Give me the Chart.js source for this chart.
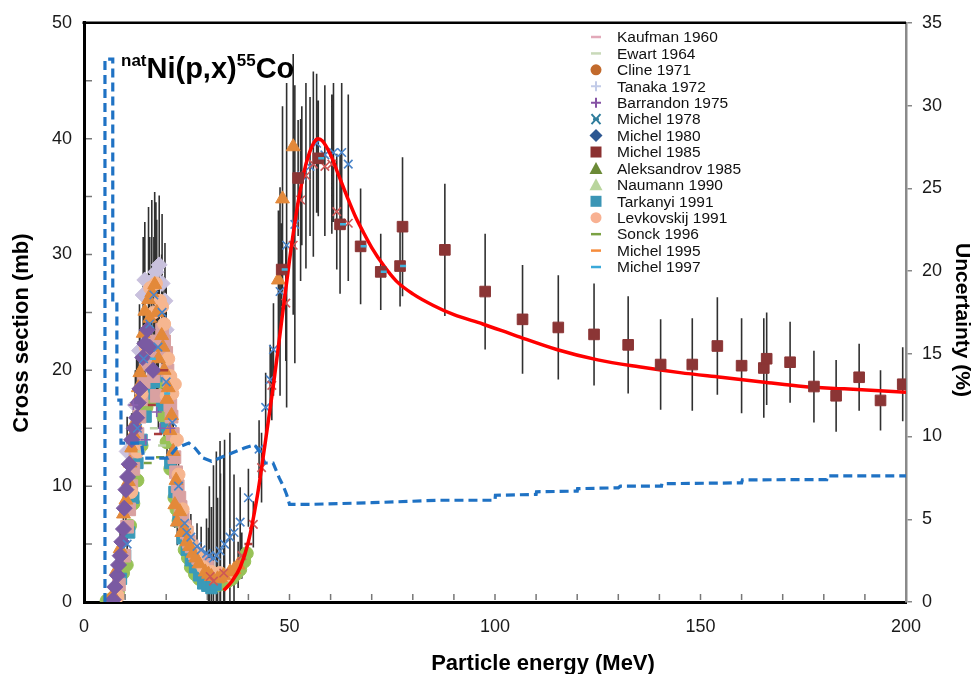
<!DOCTYPE html>
<html lang="en">
<head>
  <meta charset="UTF-8" />
  <title>natNi(p,x)55Co cross section</title>
  <script src="https://cdn.jsdelivr.net/npm/chart.js"></script>
  <style>
    body { margin: 0; background: #fff; }
    #wrap { position: relative; width: 974px; height: 674px; }
    #reaction {
      position: absolute; left: 121px; top: 52px;
      font-family: "Liberation Sans", Arial, sans-serif;
      font-weight: bold; font-size: 29px; line-height: 32px; color: #000; white-space: nowrap;
    }
    #reaction sup { font-size: 17px; line-height: 0; vertical-align: 12px; }
  </style>
</head>
<body>
<div id="wrap">
  <canvas id="xsChart" width="974" height="674"></canvas>
  <div id="reaction"><sup>nat</sup>Ni(p,x)<sup>55</sup>Co</div>
</div>

<script>
  // ---- data: [energy MeV, cross section mb, error mb] ----
  const kaufman1960 = [[16.5, 17.0], [18.0, 14.5], [19.5, 20.0], [40.0, 5.0]];
  const ewart1964 = [[14.0, 13.0], [17.0, 15.0], [19.0, 13.5]];
  const cline1971 = [[5.5, 0.1], [6.5, 0.2], [8.3, 0.8], [9.5, 2.5], [10.4, 3.2], [11.2, 6.6], [12.0, 8.5],
    [13.0, 10.5], [14.0, 13.5], [15.2, 16.8], [16.3, 17.8], [17.7, 17.5], [18.7, 19.0], [19.3, 16.0], [20.1, 13.8],
    [21.0, 11.5], [22.0, 9.0], [22.5, 8.0], [23.0, 7.0], [24.5, 4.5], [25.3, 3.8], [26.0, 3.0], [27.0, 2.4],
    [28.0, 2.0], [29.0, 1.7], [30.0, 1.5], [31.0, 1.4], [32.0, 1.4], [33.0, 1.5], [34.0, 1.6], [35.0, 1.8],
    [36.0, 2.0], [37.0, 2.4], [38.0, 2.8], [39.0, 3.5], [39.6, 4.2]];
  const tanaka1972 = [[10.5, 13.0, 3], [12.5, 17.0, 3], [13.5, 21.7, 4], [14.4, 26.5, 5], [14.8, 27.8, 5],
    [16.5, 27.7, 6], [17.5, 28.5, 6], [18.3, 29.1, 6], [19.0, 27.5, 6], [19.7, 26.0, 5], [20.0, 23.5, 4]];
  const barrandon1975 = [[12.0, 17.0], [15.0, 14.0], [17.7, 16.4], [18.5, 15.0], [21.0, 15.0]];
  const michel1978 = [[10.5, 5.0, 1], [13.0, 15.0, 3], [14.5, 21.0, 4], [16.0, 24.0, 5], [17.0, 26.5, 5],
    [18.0, 22.0, 5], [19.0, 25.0, 5], [20.0, 19.0, 4], [21.5, 15.5, 3], [23.0, 10.0, 2.5], [24.5, 6.8, 2],
    [25.0, 6.0, 2], [26.0, 5.6, 2], [27.5, 4.8, 2], [28.5, 4.5, 2], [29.8, 4.2, 3], [30.5, 4.0, 6],
    [31.5, 3.8, 8], [32.2, 4.0, 9], [33.1, 4.4, 9.5], [34.2, 5.0, 9], [35.5, 5.6, 9], [36.5, 6.0, 5],
    [38.0, 6.9, 3], [40.0, 9.0, 2.5], [42.6, 13.2, 2.5], [44.2, 16.8, 3], [45.3, 19.2, 3], [46.1, 21.8, 4],
    [47.7, 26.8, 9], [49.3, 30.8, 14], [51.3, 32.6, 12], [53.0, 36.8, 6], [55.0, 37.6, 6], [56.6, 39.6, 6],
    [58.6, 38.6, 6], [60.7, 38.8, 6], [62.7, 38.8, 6], [64.3, 37.8, 6]];
  const michel1980 = [[7.1, 0.2], [7.5, 1.3], [8.1, 2.3], [8.4, 3.2], [8.8, 4.0], [9.2, 5.2], [9.6, 6.3],
    [9.8, 8.1], [10.2, 9.7], [10.6, 10.8], [11.0, 11.9], [11.6, 14.0], [12.2, 15.0], [12.8, 15.9], [13.2, 17.2],
    [13.6, 18.4], [14.3, 21.1], [14.8, 22.3], [15.4, 23.5], [16.0, 22.0], [16.8, 20.0]];
  const michel1985 = [[48.1, 28.7, 4], [52.1, 36.6, 5], [57.0, 38.3, 5], [62.3, 32.6, 6], [67.3, 30.7, 5],
    [72.2, 28.5, 3.3], [76.9, 29.0, 3.5], [77.5, 32.4, 6], [87.8, 30.4, 5.7], [97.6, 26.8, 5], [106.7, 24.4, 4.7],
    [115.4, 23.7, 4.5], [124.1, 23.1, 4.4], [132.4, 22.2, 4.2], [140.3, 20.5, 3.9], [148.0, 20.5, 4],
    [154.1, 22.1, 4.2], [160.0, 20.4, 4.1], [165.4, 20.2, 4.3], [166.1, 21.0, 4], [171.8, 20.7, 3.5],
    [177.6, 18.6, 3.1], [183.0, 17.8, 3.1], [188.6, 19.4, 2.9], [193.8, 17.4, 2.6], [199.2, 18.8, 3.2]];
  const aleksandrov1985 = [[6.0, 0.1], [7.0, 0.6], [7.9, 2.7, 1], [8.8, 4.6, 1.5], [9.6, 7.6, 2], [10.2, 8.8, 2],
    [10.8, 10.4, 2.5], [11.2, 12.0, 2.5], [11.6, 13.3, 3], [12.0, 14.5, 3], [12.4, 15.5, 3], [12.8, 17.3, 4],
    [13.2, 18.5, 4], [13.6, 19.8, 5], [14.4, 23.2, 6], [14.8, 25.1, 7], [15.7, 26.1, 8], [16.0, 24.5, 7],
    [16.5, 26.7, 8], [17.2, 27.4, 8], [17.7, 25.0, 8], [18.1, 21.0, 6], [18.9, 23.0, 7], [19.2, 22.0, 6],
    [19.5, 20.0, 6], [20.2, 17.5, 5], [20.5, 18.5, 5], [20.9, 14.8, 4], [21.3, 16.1, 4], [21.7, 13.0, 3],
    [22.1, 8.4, 2], [22.4, 10.5, 2], [22.7, 6.9, 2], [23.3, 7.8, 2], [23.8, 6.0, 1.5], [24.3, 6.3, 1.5],
    [25.0, 5.2, 1.5], [25.7, 4.8, 1], [26.5, 4.2, 1], [27.2, 3.8, 1], [28.0, 3.3, 1], [29.5, 2.6, 1],
    [30.3, 2.4, 4], [31.0, 2.2, 6], [32.5, 2.0, 7], [33.2, 2.1, 9], [34.0, 2.3, 8], [35.5, 2.6, 6],
    [36.5, 2.8, 4], [37.5, 3.2, 2], [47.3, 27.8, 6], [48.3, 34.8, 8], [50.9, 39.3, 8]];
  const naumann1990 = [[8.5, 1.5], [9.8, 4.0], [10.5, 6.5], [11.0, 8.0], [11.5, 10.0], [12.0, 11.5], [12.5, 13.0],
    [13.0, 14.5], [13.5, 16.0], [14.0, 17.5], [14.5, 19.0], [15.0, 20.5], [15.5, 21.5], [16.0, 22.0],
    [16.9, 19.5], [17.3, 22.5], [17.7, 17.8], [18.5, 21.3], [19.0, 23.5], [19.5, 22.5], [20.0, 21.5],
    [20.3, 20.0], [20.8, 19.0], [21.0, 17.0], [21.3, 16.0], [21.6, 14.5], [22.0, 12.5], [22.4, 11.2],
    [22.8, 10.0], [23.2, 9.0], [23.5, 8.2], [24.0, 7.3], [24.5, 6.5], [25.0, 6.0], [25.5, 5.2], [26.2, 4.8],
    [27.0, 4.2], [27.8, 3.8], [28.5, 3.5], [29.2, 3.2], [30.0, 3.0]];
  const tarkanyi1991 = [[9.0, 2.0], [10.0, 4.0], [11.0, 6.0], [12.0, 9.0], [13.0, 12.0], [14.0, 14.0],
    [15.0, 16.0], [16.0, 18.0], [17.0, 19.0], [18.0, 19.5], [19.0, 17.0], [20.0, 15.0], [21.0, 12.0],
    [22.0, 9.5], [23.0, 7.0], [24.0, 5.5], [25.0, 4.5], [26.0, 3.6], [27.0, 3.0], [28.0, 2.3], [29.0, 1.6],
    [30.0, 1.4], [31.0, 1.2], [32.0, 1.5]];
  const levkovskij1991 = [[8.3, 0.5], [11.5, 9.5], [13.0, 13.0], [14.0, 18.0], [15.0, 22.0], [16.1, 27.1],
    [17.0, 25.0], [17.5, 27.5], [18.5, 26.0], [19.0, 25.5], [19.5, 24.0], [20.1, 17.8], [20.5, 21.0],
    [21.0, 19.5], [21.5, 18.0], [22.1, 18.8], [22.6, 14.0], [23.0, 11.0], [24.0, 8.0], [25.0, 6.2],
    [26.0, 5.0], [27.5, 4.0], [29.0, 3.0], [31.0, 2.6], [33.0, 2.5], [35.0, 2.3]];
  const sonck1996 = [[15.5, 12.0], [18.5, 12.5]];
  const michel1995 = [[30.7, 2.2], [31.5, 1.8, 9], [34.0, 2.5, 10], [38.4, 4.0, 2], [41.2, 6.7, 2], [43.2, 11.6, 3],
    [45.7, 18.7, 3], [49.1, 25.8, 5], [50.9, 30.8, 6], [52.7, 34.7, 7], [54.0, 36.8, 8], [55.8, 37.8, 8],
    [58.6, 37.6, 6], [60.3, 37.8, 6], [61.5, 33.7, 5], [64.3, 32.7, 5]];
  const michel1997 = [[16.0, 21.0], [19.5, 18.0], [48.1, 28.7], [57.0, 38.3], [62.3, 32.6], [67.3, 30.7],
    [72.2, 28.5], [76.9, 29.0]];

  // evaluated (recommended) curve
  const fitEnergy = [34, 36, 38, 40, 42, 44, 46, 48, 50, 52, 54, 56, 57, 58, 60, 62, 64, 66, 68, 70, 73, 76, 80,
    85, 90, 97, 105, 115, 125, 135, 145, 155, 165, 175, 185, 200];
  const fitXs = [1.0, 1.8, 3.0, 5.2, 8.8, 13.5, 18.5, 24.0, 29.5, 34.3, 37.8, 39.7, 40.0, 39.8, 38.6, 36.8, 35.0,
    33.3, 31.9, 30.6, 29.0, 27.7, 26.6, 25.6, 24.8, 24.0, 23.0, 21.8, 20.9, 20.3, 19.8, 19.4, 19.0, 18.6, 18.4, 18.1];

  // uncertainty of the curve (%), right axis
  const uncEnergy = [5.1, 5.1, 7.0, 7.0, 8.0, 8.0, 9.0, 9.0, 14.0, 14.5, 20.5, 22.5, 25.5, 27.0, 29.0, 31.0, 33.0,
    36.0, 39.0, 41.5, 43.0, 44.0, 46.0, 47.5, 48.5, 49.3, 50.0, 55, 70, 86.6, 100, 100.1, 110, 110.1, 120, 120.1,
    130, 130.5, 140.5, 140.6, 160, 160.2, 180.7, 180.8, 200];
  const uncPct = [0, 32.8, 32.8, 18.0, 18.0, 12.2, 12.2, 9.6, 9.6, 8.7, 8.7, 9.3, 9.6, 9.3, 8.7, 8.5, 8.7,
    9.0, 9.3, 9.5, 9.0, 8.4, 8.4, 7.5, 7.0, 6.5, 5.9, 5.9, 6.0, 6.15, 6.15, 6.45, 6.5, 6.66, 6.7, 6.85,
    6.9, 7.0, 7.0, 7.15, 7.2, 7.38, 7.4, 7.62, 7.62];

  const xTickStep = 50, yTickStep = 10, y2TickStep = 5;

  const legendNames = ['Kaufman 1960', 'Ewart 1964', 'Cline 1971', 'Tanaka 1972', 'Barrandon 1975',
    'Michel 1978', 'Michel 1980', 'Michel 1985', 'Aleksandrov 1985', 'Naumann 1990', 'Tarkanyi 1991',
    'Levkovskij 1991', 'Sonck 1996', 'Michel 1995', 'Michel 1997'];
  const legendColors = ['#e2a9b9', '#c9d9b9', '#c26a2c', '#c2cbe8', '#8552a4', '#2f7d9c', '#2d5791', '#8b3030',
    '#6b8a36', '#b9d59d', '#3b95b5', '#f8b192', '#7ba243', '#f68c3c', '#3aa9d9'];
  const legendShapes = ['dash', 'dash', 'circle', 'cross', 'cross', 'crossRot', 'rectRot', 'rect', 'triangle',
    'triangle', 'rect', 'circle', 'dash', 'dash', 'dash'];

  const FONT = '"Liberation Sans", Arial, sans-serif';
  const pts = s => s.map(p => ({ x: p[0], y: p[1] }));

  function errorSegments(list) {
    const out = [];
    list.forEach(s => s.forEach(p => {
      if (p[2]) out.push({ x: p[0], y: p[1] - p[2] }, { x: p[0], y: p[1] + p[2] }, { x: p[0], y: null });
    }));
    return out;
  }

  function scatterSet(label, data, color, style, radius, order, bw) {
    return {
      type: 'scatter', label, data: pts(data), order,
      pointStyle: style, pointRadius: radius, pointBackgroundColor: color,
      pointBorderColor: color, pointBorderWidth: bw || 1, showLine: false
    };
  }

  // inward minor ticks + top frame
  const framePlugin = {
    id: 'frame',
    afterDraw(chart) {
      const { ctx, chartArea: a } = chart;
      const sx = chart.scales.x, sy = chart.scales.y;
      ctx.save();
      ctx.strokeStyle = '#777'; ctx.lineWidth = 1.5;
      ctx.beginPath();
      for (let v = 10; v < 200; v += 10) {
        const px = sx.getPixelForValue(v);
        ctx.moveTo(px, a.bottom - 2); ctx.lineTo(px, a.bottom - 8);
      }
      for (let v = 5; v < 50; v += 5) {
        const py = sy.getPixelForValue(v);
        ctx.moveTo(a.left + 2, py); ctx.lineTo(a.left + 8, py);
      }
      ctx.stroke();
      ctx.strokeStyle = '#000'; ctx.lineWidth = 2.5;
      ctx.beginPath(); ctx.moveTo(a.left - 1.5, a.top); ctx.lineTo(a.right, a.top); ctx.stroke();
      ctx.restore();
    }
  };

  function drawMarker(ctx, shape, color, x, y) {
    ctx.fillStyle = color; ctx.strokeStyle = color; ctx.lineWidth = 2;
    ctx.beginPath();
    if (shape === 'circle') { ctx.arc(x, y, 5.5, 0, 2 * Math.PI); ctx.fill(); }
    else if (shape === 'rect') { ctx.fillRect(x - 5.5, y - 5.5, 11, 11); }
    else if (shape === 'triangle') { ctx.moveTo(x, y - 6.5); ctx.lineTo(x + 6.5, y + 5.5); ctx.lineTo(x - 6.5, y + 5.5); ctx.closePath(); ctx.fill(); }
    else if (shape === 'rectRot') { ctx.moveTo(x, y - 6.5); ctx.lineTo(x + 6.5, y); ctx.lineTo(x, y + 6.5); ctx.lineTo(x - 6.5, y); ctx.closePath(); ctx.fill(); }
    else if (shape === 'cross') { ctx.moveTo(x - 5, y); ctx.lineTo(x + 5, y); ctx.moveTo(x, y - 5); ctx.lineTo(x, y + 5); ctx.stroke(); }
    else if (shape === 'crossRot') { ctx.moveTo(x - 4.5, y - 5); ctx.lineTo(x + 4.5, y + 5); ctx.moveTo(x + 4.5, y - 5); ctx.lineTo(x - 4.5, y + 5);
      ctx.moveTo(x - 3, y); ctx.lineTo(x + 3, y); ctx.stroke(); }
    else if (shape === 'dash') { ctx.lineWidth = 2.5; ctx.moveTo(x - 5, y); ctx.lineTo(x + 5, y); ctx.stroke(); }
  }

  const legendPlugin = {
    id: 'sideLegend',
    afterDraw(chart) {
      const ctx = chart.ctx;
      ctx.save();
      ctx.font = '15.5px ' + FONT; ctx.textBaseline = 'middle'; ctx.textAlign = 'left';
      legendNames.forEach((name, i) => {
        const y = 37 + i * 16.43;
        drawMarker(ctx, legendShapes[i], legendColors[i], 596, y);
        ctx.fillStyle = '#111';
        ctx.fillText(name, 617, y + 1);
      });
      ctx.restore();
    }
  };

  const axisTitlePlugin = {
    id: 'axisTitles',
    afterDraw(chart) {
      const ctx = chart.ctx;
      ctx.save();
      ctx.fillStyle = '#000'; ctx.textAlign = 'center'; ctx.textBaseline = 'middle';
      ctx.font = 'bold 22px ' + FONT;
      ctx.fillText('Particle energy (MeV)', 543, 664);
      ctx.save(); ctx.translate(22, 333); ctx.rotate(-Math.PI / 2);
      ctx.fillText('Cross section (mb)', 0, 0); ctx.restore();
      ctx.font = 'bold 21px ' + FONT;
      ctx.save(); ctx.translate(962, 320); ctx.rotate(Math.PI / 2);
      ctx.fillText('Uncertainty (%)', 0, 0); ctx.restore();
      ctx.restore();
    }
  };

  const datasets = [
    { type: 'line', label: 'errors', data: errorSegments([tanaka1972, michel1978, michel1985, aleksandrov1985, michel1995]),
      borderColor: 'rgba(25,25,25,0.9)', borderWidth: 1.6, pointRadius: 0, spanGaps: false, order: 20 },
    scatterSet('Cline 1971', cline1971, '#98c257', 'circle', 6.5, 12),
    scatterSet('Tarkanyi 1991', tarkanyi1991, '#3a9ab8', 'rect', 8, 11.5),
    scatterSet('Tanaka 1972', tanaka1972, '#c9c1dd', 'rectRot', 8, 11),
    scatterSet('Naumann 1990', naumann1990, '#d9a1a1', 'rect', 9, 10.5),
    scatterSet('Levkovskij 1991', levkovskij1991, '#f6b690', 'circle', 6.5, 10.3),
    scatterSet('Aleksandrov 1985', aleksandrov1985, '#e3893a', 'triangle', 8, 10),
    scatterSet('Michel 1980', michel1980, '#7a5aa2', 'rectRot', 8, 9.8),
    scatterSet('Michel 1978', michel1978, '#4a84c9', 'crossRot', 6, 9.5, 1.6),
    scatterSet('Michel 1995', michel1995, '#cc5757', 'crossRot', 6, 9.4, 1.6),
    scatterSet('Barrandon 1975', barrandon1975, '#8a60b0', 'cross', 5, 9.2, 1.6),
    scatterSet('Kaufman 1960', kaufman1960, '#a83c3c', 'line', 4, 9.1, 2.5),
    scatterSet('Ewart 1964', ewart1964, '#b9d2a4', 'line', 4, 9.1, 2.5),
    scatterSet('Sonck 1996', sonck1996, '#7ba243', 'line', 4, 9.1, 2.5),
    { type: 'line', label: 'Uncertainty', yAxisID: 'y2',
      data: uncEnergy.map((e, i) => ({ x: e, y: uncPct[i] })),
      borderColor: '#1f72c4', borderWidth: 3.2, borderDash: [9, 5], pointRadius: 0, tension: 0, order: 8 },
    { type: 'line', label: 'Evaluation',
      data: fitEnergy.map((e, i) => ({ x: e, y: fitXs[i] })),
      borderColor: '#ff0000', borderWidth: 3.5, pointRadius: 0, cubicInterpolationMode: 'monotone', order: 5 },
    scatterSet('Michel 1985', michel1985, '#8b3535', 'rect', 7.5, 2),
    scatterSet('Michel 1997', michel1997, '#40b2dc', 'dash', 6, 1, 2.5)
  ];

  new Chart(document.getElementById('xsChart'), {
    type: 'scatter',
    data: { datasets },
    options: {
      responsive: false,
      animation: false,
      devicePixelRatio: 1,
      layout: { padding: { top: 20 } },
      plugins: { legend: { display: false }, tooltip: { enabled: false } },
      scales: {
        x: {
          type: 'linear', min: 0, max: 200,
          ticks: { stepSize: xTickStep, font: { family: FONT, size: 18 }, color: '#1a1a1a', padding: 14 },
          grid: { display: false, drawTicks: false },
          border: { color: '#000', width: 3 },
          afterFit: s => { s.height = 72; }
        },
        y: {
          min: 0, max: 50,
          ticks: { stepSize: yTickStep, font: { family: FONT, size: 18 }, color: '#1a1a1a', padding: 12 },
          grid: { display: false, drawTicks: false },
          border: { color: '#000', width: 3 },
          afterFit: s => { s.width = 84; }
        },
        y2: {
          position: 'right', min: 0, max: 35,
          ticks: { stepSize: y2TickStep, font: { family: FONT, size: 18 }, color: '#1a1a1a', padding: 10 },
          grid: { drawOnChartArea: false, drawTicks: true, tickLength: 6, color: '#888', lineWidth: 1.5 },
          border: { color: '#8a8a8a', width: 2.5 },
          afterFit: s => { s.width = 68; }
        }
      }
    },
    plugins: [framePlugin, legendPlugin, axisTitlePlugin]
  });
</script>
</body>
</html>
